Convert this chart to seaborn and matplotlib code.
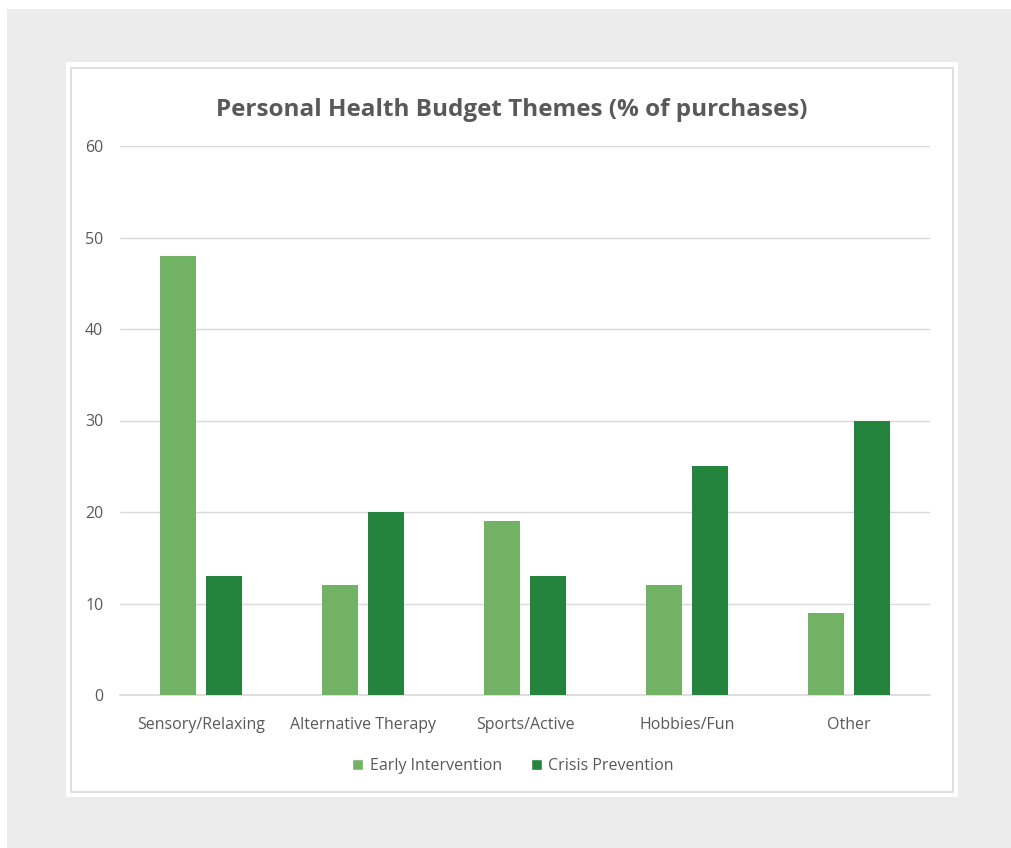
import matplotlib
matplotlib.use("Agg")
import pandas as pd
import seaborn as sns
import matplotlib.pyplot as plt
from matplotlib.patches import Rectangle

# data
categories = ["Sensory/Relaxing", "Alternative Therapy", "Sports/Active", "Hobbies/Fun", "Other"]
early = [48, 12, 19, 12, 9]
crisis = [13, 20, 13, 25, 30]
series = ["Early Intervention", "Crisis Prevention"]
pal = ["#72B264", "#24833C"]

df = pd.DataFrame({
    "theme": categories * 2,
    "pct": early + crisis,
    "group": [series[0]] * len(categories) + [series[1]] * len(categories),
})

sns.set_style("white")
plt.rcParams["font.family"] = ["Open Sans", "DejaVu Sans"]

W, H = 1011, 848
fig = plt.figure(figsize=(W / 100, H / 100), dpi=100, facecolor="white")

# gray backdrop + white card with thin border
fig.patches.append(Rectangle((7 / W, 0), 1 - 7 / W, 1 - 9 / H, transform=fig.transFigure,
                             facecolor="#ececec", edgecolor="none", zorder=-3))
fig.patches.append(Rectangle((66 / W, 1 - 797 / H), 892 / W, 735 / H, transform=fig.transFigure,
                             facecolor="white", edgecolor="none", zorder=-2))
fig.patches.append(Rectangle((71 / W, 1 - 792 / H), 882 / W, 724 / H, transform=fig.transFigure,
                             facecolor="none", edgecolor="#d9d9d9", linewidth=1.2, zorder=-1))

ax = fig.add_axes([120 / W, 1 - 695 / H, 810 / W, 549 / H])
ax.set_facecolor("none")

sns.barplot(data=df, x="theme", y="pct", hue="group", palette=pal, width=0.57, gap=0.22,
            saturation=1, ax=ax, zorder=3, edgecolor="none")

ax.set_xlim(-0.5, len(categories) - 0.5)
ax.set_ylim(0, 60)
ax.set_yticks(range(0, 61, 10))
ax.yaxis.grid(True, color="#d9d9d9", linewidth=1.0, zorder=0)
ax.set_axisbelow(True)
for s in ["top", "right", "left"]:
    ax.spines[s].set_visible(False)
ax.spines["bottom"].set_color("#d9d9d9")
ax.spines["bottom"].set_linewidth(1.2)
ax.tick_params(axis="y", length=0, pad=12, labelsize=11.5, labelcolor="#595959")
ax.tick_params(axis="x", length=0, pad=16, labelsize=11.5, labelcolor="#595959")
ax.set_xlabel("")
ax.set_ylabel("")

ax.get_legend().remove()
handles = [Rectangle((0, 0), 1, 1, facecolor=c) for c in pal]
fig.legend(handles, series, loc="center", bbox_to_anchor=(513 / W, 1 - 766 / H), ncol=2,
           frameon=False, fontsize=11.5, labelcolor="#595959", handlelength=0.7, handleheight=0.7,
           handletextpad=0.4, columnspacing=1.8)

fig.text(512 / W, 1 - 110 / H, "Personal Health Budget Themes (% of purchases)", ha="center",
         va="center", fontsize=17.5, fontweight="bold", color="#595959")

fig.savefig("out.png", dpi=100, facecolor="white")
